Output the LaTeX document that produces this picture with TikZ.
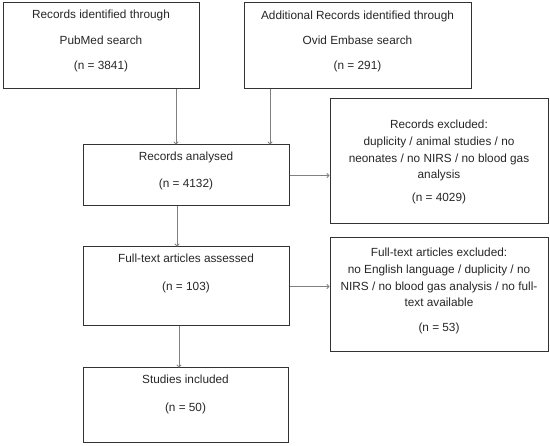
\documentclass[tikz,border=0pt]{standalone}
\usepackage{fontspec}
\setmainfont{Liberation Sans}
\usetikzlibrary{arrows.meta}
\begin{document}
\begin{tikzpicture}[x=1pt,y=-1pt,
  box/.style={draw=black!80, line width=1pt, inner sep=0pt},
  lbl/.style={anchor=north, align=center, inner sep=0pt, text=black!85, font=\fontsize{11.8}{#1}\selectfont},
  lbl/.default=16.7,
  conn/.style={draw=black!50, line width=0.8pt, -{To[length=3pt,width=5pt]}}]
\useasboundingbox (0,0) rectangle (550,446);
% boxes
\node[box, minimum width=196pt, minimum height=86pt] (pub) at (101,46) {};
\node[box, minimum width=227pt, minimum height=86pt] (ovid) at (357.5,46) {};
\node[box, minimum width=206pt, minimum height=61pt] (ana) at (186,175.5) {};
\node[box, minimum width=218pt, minimum height=125pt] (exc1) at (439,161.5) {};
\node[box, minimum width=206pt, minimum height=79pt] (ft) at (186,286.5) {};
\node[box, minimum width=218pt, minimum height=114pt] (exc2) at (439,295) {};
\node[box, minimum width=205pt, minimum height=75pt] (inc) at (185.5,405.5) {};
% texts
\node[lbl=25.5] (tpub) at (101,10) {Records identified through\\PubMed search\\(n = 3841)};
\node[lbl=25] (tovid) at (357.5,11) {Additional Records identified through\\Ovid Embase search\\(n = 291)};
\node[lbl=27] (tana) at (186,152) {Records analysed\\(n = 4132)};
\node[lbl] (texc1) at (439,120) {Records excluded:\\duplicity / animal studies / no\\neonates / no NIRS / no blood gas\\analysis\\[6.3pt](n = 4029)};
\node[lbl=28] (tft) at (186,254) {Full-text articles assessed\\(n = 103)};
\node[lbl] (texc2) at (439,248) {Full-text articles excluded:\\no English language / duplicity / no\\NIRS / no blood gas analysis / no full-\\text available\\[8.3pt](n = 53)};
\node[lbl=28] (tinc) at (185.5,375) {Studies included\\(n = 50)};
% connectors
\coordinate (c1) at (176,0);
\coordinate (c2) at (270,0);
\coordinate (c3) at (177,0);
\coordinate (c4) at (179,0);
\draw[conn] (pub.south -| c1) -- (ana.north -| c1);
\draw[conn] (ovid.south -| c2) -- (ana.north -| c2);
\draw[conn] (ana.east) -- (ana.east -| exc1.west);
\draw[conn] (ana.south -| c3) -- (ft.north -| c3);
\draw[conn] (ft.east) -- (ft.east -| exc2.west);
\draw[conn] (ft.south -| c4) -- (inc.north -| c4);
\end{tikzpicture}
\end{document}
